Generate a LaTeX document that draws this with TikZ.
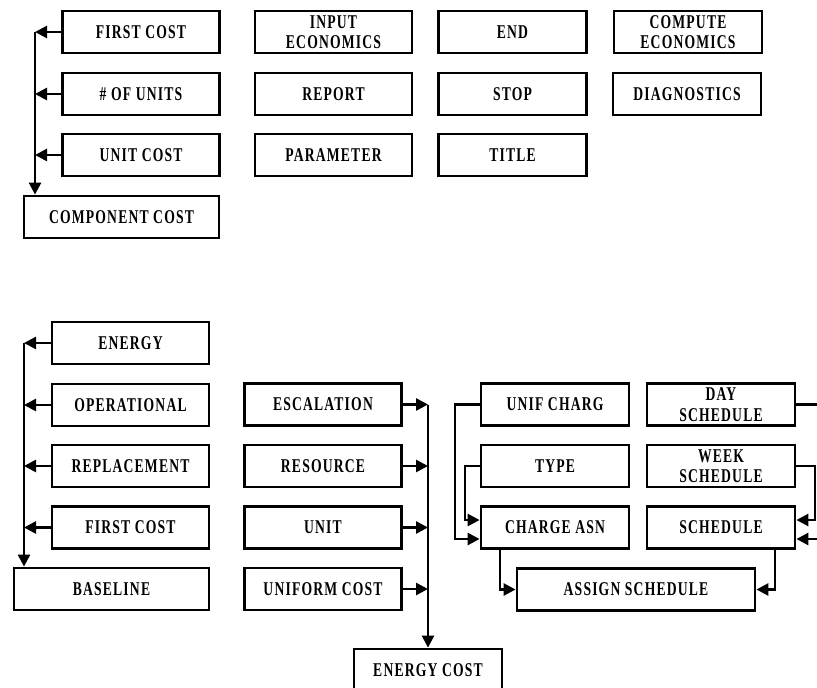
\documentclass[tikz,border=0pt]{standalone}
\usepackage{fontspec}
\newfontfamily\boxfont[FakeStretch=0.7,LetterSpace=6]{Liberation Serif Bold}
\usetikzlibrary{arrows.meta}
\begin{document}
\begin{tikzpicture}[x=1pt,y=-1pt,
  box/.style={draw, line width=2.8pt, minimum height=42pt, inner sep=0pt,
    align=center, font=\boxfont\fontsize{19.5}{20.5}\selectfont},
  link/.style={line width=2.6pt},
  arr/.style={link, -{Triangle[length=12pt,width=12pt]}},
  w148/.style={minimum width=148pt},
  w157/.style={minimum width=157pt},
  w195/.style={minimum width=195pt}]
\useasboundingbox (0,0) rectangle (817,688);

% ---- component cost inputs
\node[box,w157] (fc1) at (141,32) {FIRST COST};
\node[box,w157] (nu)  at (141,94) {\# OF UNITS};
\node[box,w157] (uc)  at (141,155) {UNIT COST};
\node[box,w195] (cc)  at (121.5,217) {COMPONENT COST};

% ---- command boxes
\node[box,w157] (ie)  at (333.5,32) {INPUT\\ECONOMICS};
\node[box,w157] (rep) at (333.5,94) {REPORT};
\node[box,w157] (par) at (333.5,155) {PARAMETER};
\node[box,w148] (end) at (512.5,32) {END};
\node[box,w148] (stp) at (512.5,94) {STOP};
\node[box,w148] (ttl) at (512.5,155) {TITLE};
\node[box,w148] (ce)  at (688,32) {COMPUTE\\ECONOMICS};
\node[box,w148] (dia) at (687,94) {DIAGNOSTICS};

\coordinate (sA) at (35,32);
\draw[arr] (sA) -- (sA |- cc.north);
\foreach \n in {fc1,nu,uc}
  \draw[arr] (\n.west) -- (sA |- \n.west);

% ---- baseline inputs
\node[box,w157] (en)  at (130.5,343) {ENERGY};
\node[box,w157] (op)  at (130.5,405) {OPERATIONAL};
\node[box,w157] (rp)  at (130.5,466) {REPLACEMENT};
\node[box,w157] (fc2) at (130.5,527.5) {FIRST COST};
\node[box,w195] (bl)  at (111.5,589) {BASELINE};

\coordinate (sB) at (24,343);
\draw[arr] (sB) -- (sB |- bl.north);
\foreach \n in {en,op,rp,fc2}
  \draw[arr] (\n.west) -- (sB |- \n.west);

% ---- energy cost inputs
\node[box,w157] (esc) at (323,404.5) {ESCALATION};
\node[box,w157] (res) at (323,466) {RESOURCE};
\node[box,w157] (uni) at (323,527.5) {UNIT};
\node[box,w157] (ufc) at (323,589) {UNIFORM COST};
\node[box,w148] (ec)  at (428,670) {ENERGY COST};

\coordinate (sC) at (428,404.5);
\draw[arr] (sC) -- (ec.north);
\foreach \n in {esc,res,uni,ufc}
  \draw[arr] (\n.east) -- (sC |- \n.east);

% ---- schedules
\node[box,w148] (unc) at (555,404.5) {UNIF CHARG};
\node[box,w148] (day) at (721,404.5) {DAY\\SCHEDULE};
\node[box,w148] (typ) at (555,466) {TYPE};
\node[box,w148] (wk)  at (721,466) {WEEK\\SCHEDULE};
\node[box,w148] (ca)  at (555,527.5) {CHARGE ASN};
\node[box,w148] (sch) at (721,527.5) {SCHEDULE};
\node[box,minimum width=238pt] (as) at (636,589.5) {ASSIGN SCHEDULE};

\coordinate (caLo) at (ca.west |- 0,539);
\coordinate (caHi) at (ca.west |- 0,520);
\coordinate (scLo) at (sch.east |- 0,539);
\coordinate (scHi) at (sch.east |- 0,520);
\coordinate (caB) at (500,0 |- ca.south);
\coordinate (scB) at (775,0 |- sch.south);

\draw[arr] (unc.west) -| (455,539) -- (caLo);
\draw[arr] (typ.west) -| (465,520) -- (caHi);
\draw[arr] (day.east) -| (822,539) -- (scLo);
\draw[arr] (wk.east) -| (815,520) -- (scHi);
\draw[arr] (caB) |- (as.west);
\draw[arr] (scB) |- (as.east);
\end{tikzpicture}
\end{document}
